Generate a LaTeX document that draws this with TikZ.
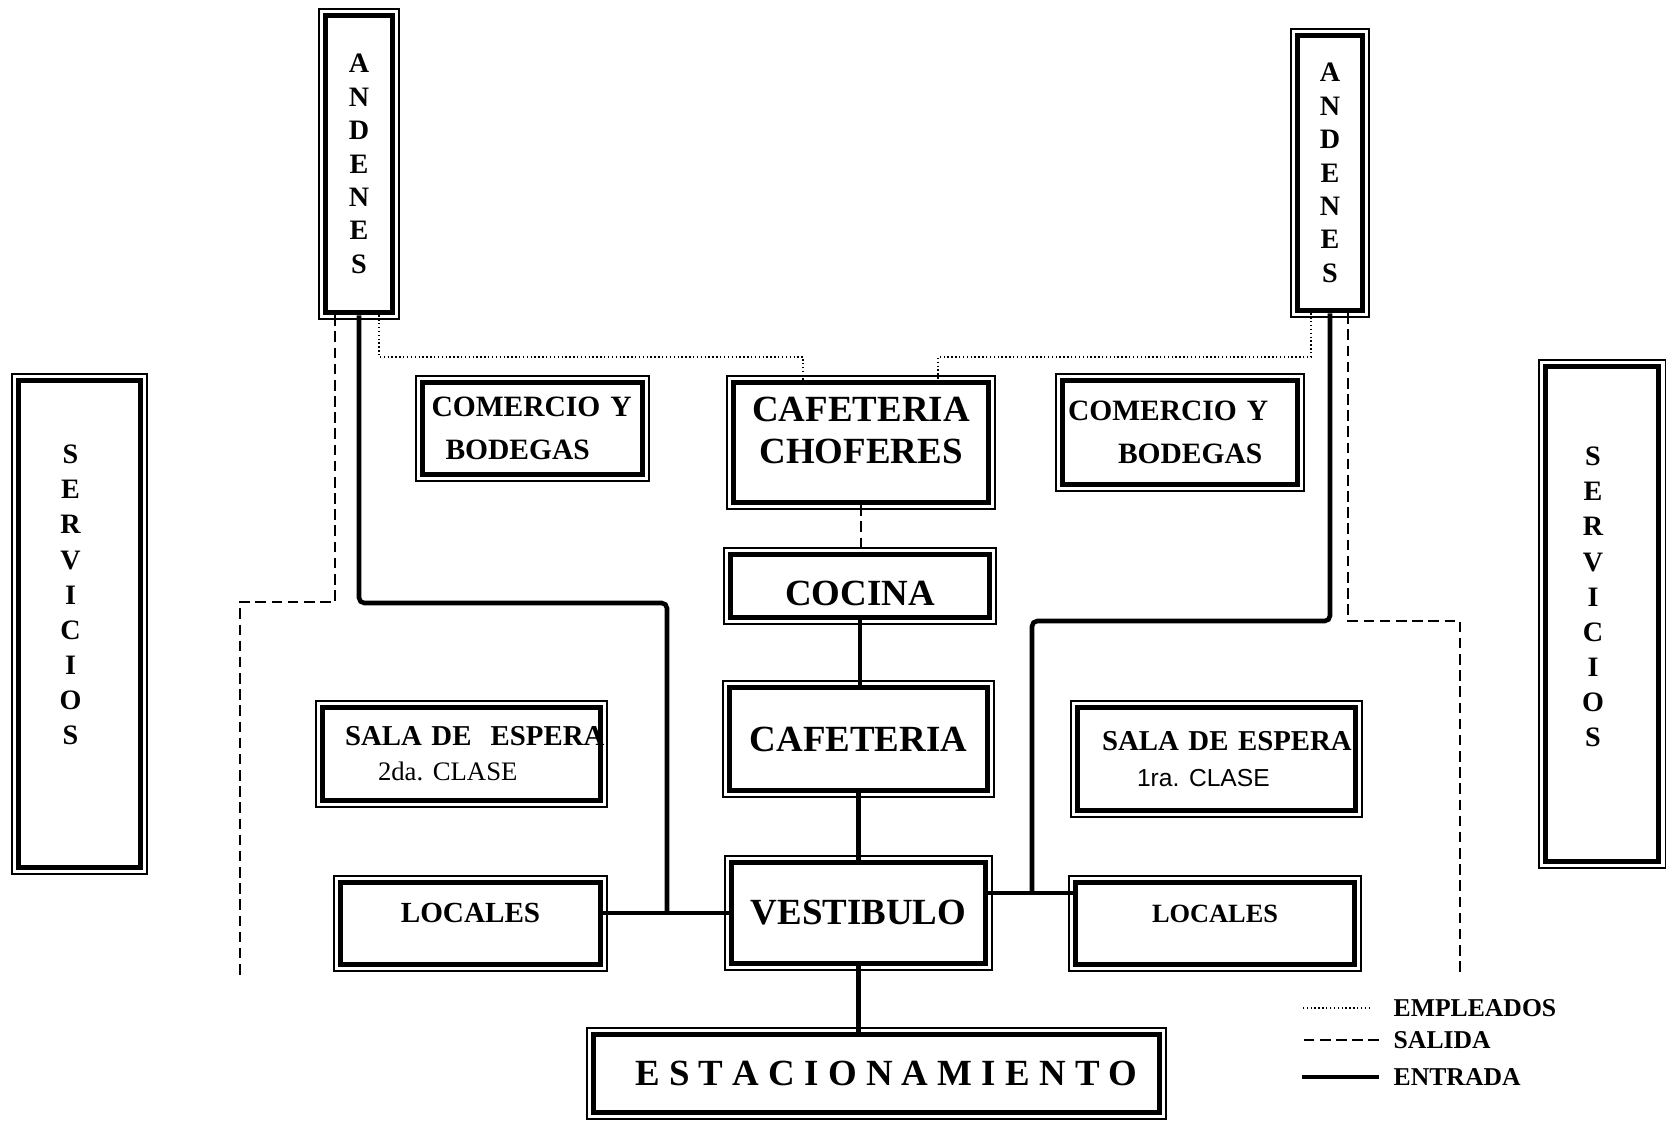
\documentclass[tikz,border=0pt]{standalone}
\usepackage{fontspec}
\setmainfont{Liberation Serif}
\newfontfamily\sansfont{Liberation Sans}
\tikzstyle{room} = [rectangle, draw=black, line width=1.6pt, fill=white, inner sep=0pt, font=\bfseries, preaction={draw=black, line width=4.3pt}, preaction={draw=white, line width=3.4pt}]
\tikzstyle{vtxt} = [align=center, font=\fontsize{8}{9.5}\selectfont\bfseries]
\tikzstyle{big} = [font=\fontsize{10.5}{12}\selectfont\bfseries]
\tikzstyle{mid} = [font=\fontsize{8.4}{12.2}\selectfont\bfseries]
\tikzstyle{entrada} = [line width=1.3pt, rounded corners=1.5pt]
\tikzstyle{salida} = [line width=0.55pt, dash pattern=on 3pt off 1.6pt]
\tikzstyle{empleados} = [line width=0.35pt, dash pattern=on 0.4pt off 0.7pt]
\tikzstyle{legend} = [anchor=west, inner sep=0pt, font=\fontsize{7.3}{8}\selectfont\bfseries]
\begin{document}
\begin{tikzpicture}
\useasboundingbox (0,0) rectangle (16.69,-11.23);
% andenes y servicios
\node (andL) [room, vtxt, minimum width=0.67cm, minimum height=2.97cm] at (3.59,-1.64) {A\\N\\D\\E\\N\\E\\S};
\node (andR) [room, vtxt, minimum width=0.65cm, minimum height=2.75cm] at (13.30,-1.73) {A\\N\\D\\E\\N\\E\\S};
\node (servL) [room, minimum width=1.22cm, minimum height=4.87cm] at (0.795,-6.24) {};
\node (servLt) [vtxt, font=\fontsize{8}{10}\selectfont\bfseries] at ([xshift=-0.09cm, yshift=0.29cm]servL.center) {S\\E\\R\\V\\I\\C\\I\\O\\S};
\node (servR) [room, minimum width=1.13cm, minimum height=4.95cm] at (16.02,-6.14) {};
\node (servRt) [vtxt, font=\fontsize{8}{10}\selectfont\bfseries] at ([xshift=-0.09cm, yshift=0.17cm]servR.center) {S\\E\\R\\V\\I\\C\\I\\O\\S};
% locales
\node (comL) [room, mid, align=left, text width=2.02cm, minimum width=2.2cm, minimum height=0.92cm] at (5.325,-4.285) {\mbox{COMERCIO Y}\\\hspace*{0.14cm}BODEGAS};
\node (comR) [room, mid, align=left, text width=2.24cm, minimum width=2.35cm, minimum height=1.04cm] at (11.80,-4.325) {\mbox{COMERCIO Y}\\\hspace*{0.5cm}BODEGAS};
\node (cafC) [room, big, align=center, text height=18.9pt, text depth=6.8pt, minimum width=2.55cm, minimum height=1.2cm] at (8.61,-4.425) {CAFETERIA\\CHOFERES};
\node (coc) [room, big, text height=11.1pt, text depth=0pt, minimum width=2.59cm, minimum height=0.63cm] at (8.60,-5.86) {COCINA};
\node (caf) [room, big, minimum width=2.58cm, minimum height=1.03cm] at (8.585,-7.39) {CAFETERIA};
\node (vest) [room, big, minimum width=2.54cm, minimum height=1.01cm] at (8.585,-9.13) {VESTIBULO};
\node (salL) [room, font=\fontsize{8.2}{10}\selectfont\bfseries, align=left, text width=2.33cm, minimum width=2.78cm, minimum height=0.93cm] at (4.615,-7.54) {\mbox{SALA DE\ \ ESPERA}\\\hspace*{0.33cm}{\mdseries\fontsize{7.6}{10}\selectfont 2da.\ CLASE}};
\node (salR) [room, font=\fontsize{8.2}{10}\selectfont\bfseries, align=left, text width=2.29cm, minimum width=2.78cm, minimum height=1.03cm] at (12.165,-7.59) {\mbox{SALA DE ESPERA}\\\hspace*{0.35cm}{\sansfont\mdseries\fontsize{7}{10}\selectfont 1ra.\ CLASE}};
\node (locL) [room, font=\fontsize{8.3}{10}\selectfont\bfseries, text height=5.5pt, text depth=6pt, minimum width=2.6cm, minimum height=0.82cm] at (4.705,-9.235) {LOCALES};
\node (locR) [room, font=\fontsize{7.5}{10}\selectfont\bfseries, text height=4.95pt, text depth=5.4pt, minimum width=2.79cm, minimum height=0.82cm] at (12.15,-9.235) {LOCALES};
\node (est) [room, big, minimum width=5.66cm, minimum height=0.78cm] at (8.765,-10.735) {\hspace*{0.2cm}E S T A C I O N A M I E N T O};
% leyenda
\node (legE) [legend] at (13.93,-10.08) {EMPLEADOS};
\node (legS) [legend] at (13.93,-10.40) {SALIDA};
\node (legN) [legend] at (13.93,-10.77) {ENTRADA};
\coordinate (legX) at (13.02,0);
\draw [empleados] ([xshift=-0.23cm]legE.west) -- (legE.west -| legX);
\draw [salida] ([xshift=-0.14cm]legS.west) -- (legS.west -| legX);
\draw [entrada] ([xshift=-0.14cm]legN.west) -- (legN.west -| legX);
% recorridos
\coordinate (cL) at (6.67,-6.03);
\coordinate (cR) at (10.32,-6.21);
\coordinate (jR) at ([yshift=0.2cm]vest.east);
\coordinate (dL) at (2.40,-6.02);
\coordinate (dLe) at (2.40,-9.77);
\coordinate (dR) at (14.60,-6.21);
\coordinate (dRe) at (14.60,-9.77);
\coordinate (eL) at (8.03,-3.57);
\coordinate (eR) at (9.38,-3.57);
\draw [entrada] (andL.south) |- (cL) -- (cL |- vest.west);
\draw [entrada] (locL.east |- vest.west) -- (vest.west);
\draw [entrada] (andR.south) |- (cR) -- (cR |- jR);
\draw [entrada] (jR) -- (jR -| locR.west);
\draw [entrada] (coc.south) -- (coc.south |- caf.north);
\draw [entrada] (caf.south) -- (caf.south |- vest.north);
\draw [entrada] (vest.south) -- (vest.south |- est.north);
\draw [salida] (cafC.south) -- (cafC.south |- coc.north);
\draw [salida] ([xshift=-0.24cm]andL.south) |- (dL) -- (dLe);
\draw [salida] ([xshift=0.18cm]andR.south) |- (dR) -- (dRe);
\draw [empleados] ([xshift=0.20cm]andL.south) |- (eL) -- (eL |- cafC.north);
\draw [empleados] ([xshift=-0.19cm]andR.south) |- (eR) -- (eR |- cafC.north);
\end{tikzpicture}
\end{document}
